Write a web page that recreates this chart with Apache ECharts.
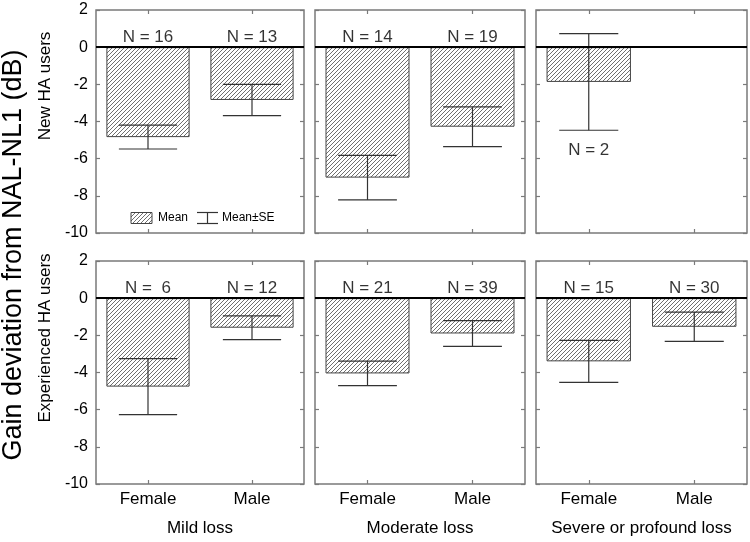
<!DOCTYPE html>
<html>
<head>
<meta charset="utf-8">
<script src="https://cdn.jsdelivr.net/npm/echarts@6/dist/echarts.min.js"></script>
<style>
  html, body { margin: 0; padding: 0; background: #fff; }
  #main { width: 750px; height: 542px; }
</style>
</head>
<body>
<div id="main"></div>
<script>
// data
const categories = ['Female', 'Male']
const lossGroups = ['Mild loss', 'Moderate loss', 'Severe or profound loss']
const userGroups = ['New HA users', 'Experienced HA users']
const yMin = -10, yMax = 2, yStep = 2

// [Female, Male] per loss group
const newMeans = [[-4.84, -2.84], [-7.02, -4.28], [-1.87, null]]
const newSE = [[0.64, 0.84], [1.2, 1.07], [2.6, null]]
const newN = [[16, 13], [14, 19], [2, null]]
const expMeans = [[-4.76, -1.59], [-4.05, -1.9], [-3.4, -1.54]]
const expSE = [[1.51, 0.64], [0.66, 0.69], [1.13, 0.79]]
const expN = [[6, 12], [21, 39], [15, 30]]

const rows = [
  {means: newMeans, se: newSE, n: newN},
  {means: expMeans, se: expSE, n: expN}
]

// layout
const colLeft = [96, 315, 536]
const colWidth = [208, 210, 211]
const rowTop = [10, 261]
const rowHeight = 223
const font = '"Liberation Sans", Arial, sans-serif'
const frameColor = '#7a7a7a'

// hatched fill
function makeHatch() {
  const c = document.createElement('canvas')
  c.width = 4; c.height = 4
  const g = c.getContext('2d')
  g.fillStyle = '#fff'
  g.fillRect(0, 0, 4, 4)
  g.strokeStyle = '#555'
  g.lineWidth = 0.85
  g.beginPath()
  g.moveTo(0, 4); g.lineTo(4, 0)
  g.moveTo(-1, 1); g.lineTo(1, -1)
  g.moveTo(3, 5); g.lineTo(5, 3)
  g.stroke()
  return c
}
const hatch = {image: makeHatch(), repeat: 'repeat'}

// error bar (mean ± SE)
function renderErr(params, api) {
  const x = api.value(0), m = api.value(1), se = api.value(2)
  const hi = api.coord([x, m + se])
  const lo = api.coord([x, m - se])
  const half = api.size([1, 0])[0] * 0.28
  const style = {stroke: '#333', lineWidth: 1.2}
  return {
    type: 'group',
    children: [
      {type: 'line', shape: {x1: hi[0], y1: hi[1], x2: lo[0], y2: lo[1]}, style},
      {type: 'line', shape: {x1: hi[0] - half, y1: hi[1], x2: hi[0] + half, y2: hi[1]}, style},
      {type: 'line', shape: {x1: lo[0] - half, y1: lo[1], x2: lo[0] + half, y2: lo[1]}, style}
    ]
  }
}

const grid = [], xAxis = [], yAxis = [], series = []
rows.forEach((row, r) => {
  lossGroups.forEach((loss, c) => {
    const gi = grid.length
    grid.push({
      left: colLeft[c], top: rowTop[r], width: colWidth[c], height: rowHeight,
      show: true, borderColor: frameColor, borderWidth: 1.5, backgroundColor: '#fff'
    })
    const tick = {show: true, inside: true, length: 4, alignWithLabel: true, lineStyle: {color: frameColor, width: 1.2}}
    xAxis.push({
      type: 'category', gridIndex: gi, data: categories, position: 'bottom',
      axisLine: {show: false, onZero: false},
      axisTick: tick,
      axisLabel: {show: r === 1, color: '#000', fontSize: 17, fontFamily: font, margin: 7},
      name: r === 1 ? loss : '', nameLocation: 'middle', nameGap: 36,
      nameTextStyle: {color: '#000', fontSize: 17, fontFamily: font}
    })
    xAxis.push({
      type: 'category', gridIndex: gi, data: categories, position: 'top',
      axisLine: {show: false, onZero: false}, axisTick: tick, axisLabel: {show: false}
    })
    const ytick = {show: true, inside: true, length: 4, lineStyle: {color: frameColor, width: 1.2}}
    yAxis.push({
      type: 'value', gridIndex: gi, min: yMin, max: yMax, interval: yStep, position: 'left',
      axisLine: {show: false}, axisTick: ytick, splitLine: {show: false},
      axisLabel: {show: c === 0, color: '#000', fontSize: 16, fontFamily: font, margin: 8}
    })
    yAxis.push({
      type: 'value', gridIndex: gi, min: yMin, max: yMax, interval: yStep, position: 'right',
      axisLine: {show: false}, axisTick: ytick, splitLine: {show: false}, axisLabel: {show: false}
    })

    const means = row.means[c], ses = row.se[c], ns = row.n[c]
    const xi = gi * 2, yi = gi * 2
    series.push({
      type: 'bar', xAxisIndex: xi, yAxisIndex: yi,
      data: means, barWidth: '80%',
      itemStyle: {color: hatch, borderColor: '#444', borderWidth: 1},
      silent: true, animation: false,
      markLine: {
        silent: true, symbol: ['none', 'none'], animation: false,
        label: {show: false},
        lineStyle: {color: '#000', width: 2, type: 'solid'},
        data: [{yAxis: 0}]
      }
    })
    const errData = []
    const nData = []
    means.forEach((m, k) => {
      if (m == null) return
      errData.push([k, m, ses[k]])
      const above = m + ses[k] <= 0
      const txt = above ? 'N = ' + String(ns[k]).padStart(2, ' ') : 'N = ' + ns[k]
      nData.push([k, above ? 0.55 : m - ses[k] - 1.1, txt])
    })
    series.push({
      type: 'custom', xAxisIndex: xi, yAxisIndex: yi, data: errData,
      renderItem: renderErr, silent: true, animation: false, z: 3
    })
    series.push({
      type: 'scatter', xAxisIndex: xi, yAxisIndex: yi, data: nData,
      symbolSize: 1, itemStyle: {color: 'rgba(0,0,0,0)'}, silent: true, animation: false,
      label: {
        show: true, position: 'inside', color: '#000', fontSize: 17, fontFamily: font,
        formatter: p => p.value[2]
      }
    })
  })
})

const errIcon = {stroke: '#333', lineWidth: 1.2}
const graphic = [
  {
    type: 'text', rotation: Math.PI / 2, x: 14, y: 255,
    style: {text: 'Gain deviation from NAL-NL1 (dB)', font: '27px ' + font, fill: '#000', textAlign: 'center', textVerticalAlign: 'middle'}
  },
  {
    type: 'text', rotation: Math.PI / 2, x: 45, y: 86,
    style: {text: userGroups[0], font: '17px ' + font, fill: '#000', textAlign: 'center', textVerticalAlign: 'middle'}
  },
  {
    type: 'text', rotation: Math.PI / 2, x: 45, y: 338,
    style: {text: userGroups[1], font: '17px ' + font, fill: '#000', textAlign: 'center', textVerticalAlign: 'middle'}
  },
  // legend
  {type: 'rect', shape: {x: 131, y: 212.5, width: 21, height: 11}, style: {fill: hatch, stroke: '#444', lineWidth: 1}},
  {type: 'text', x: 158, y: 218, style: {text: 'Mean', font: '12px ' + font, fill: '#000', textVerticalAlign: 'middle'}},
  {type: 'line', shape: {x1: 197, y1: 212.5, x2: 218, y2: 212.5}, style: errIcon},
  {type: 'line', shape: {x1: 207.5, y1: 212.5, x2: 207.5, y2: 223.5}, style: errIcon},
  {type: 'line', shape: {x1: 197, y1: 223.5, x2: 218, y2: 223.5}, style: errIcon},
  {type: 'text', x: 222, y: 218, style: {text: 'Mean±SE', font: '12px ' + font, fill: '#000', textVerticalAlign: 'middle'}}
]

const chart = echarts.init(document.getElementById('main'))
chart.setOption({
  animation: false,
  backgroundColor: '#fff',
  grid, xAxis, yAxis, series, graphic
})
</script>
</body>
</html>
